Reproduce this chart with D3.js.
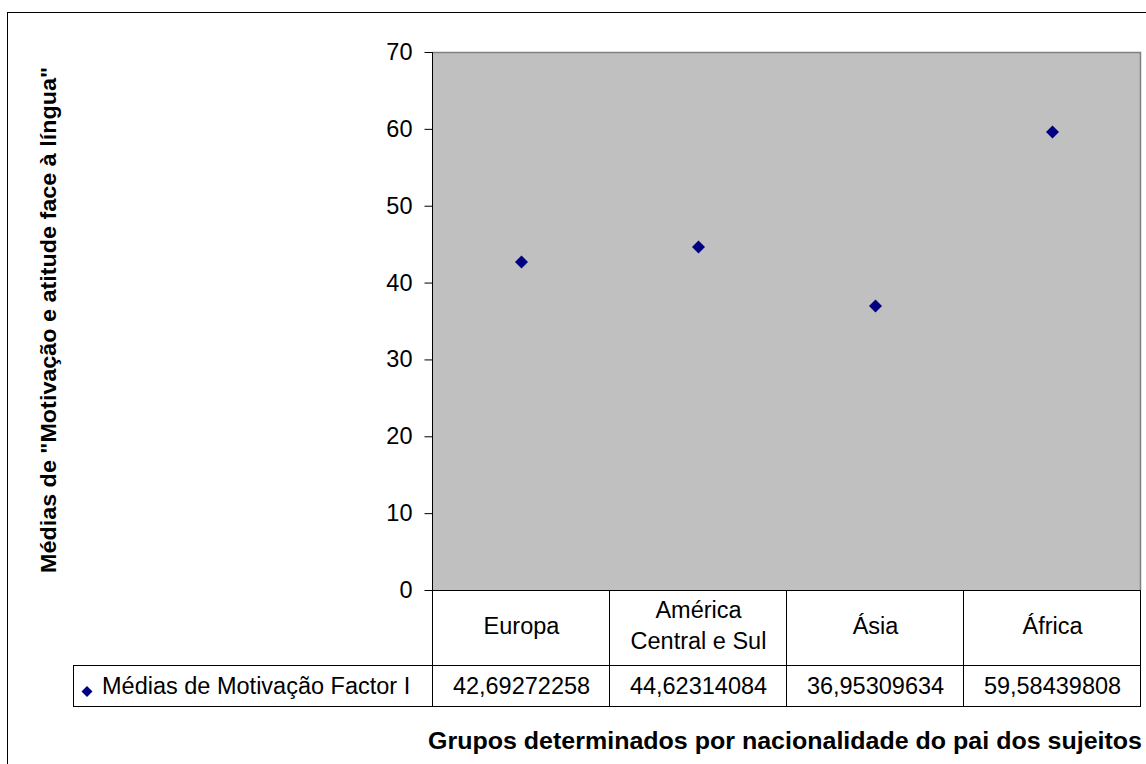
<!DOCTYPE html>
<html>
<head>
<meta charset="utf-8">
<script src="https://cdn.jsdelivr.net/npm/d3@7"></script>
<style>
  html, body { margin: 0; padding: 0; background: #fff; }
  svg { display: block; font-family: "Liberation Sans", Arial, sans-serif; }
</style>
</head>
<body>
<svg id="chart" width="1146" height="764"></svg>
<script>
// Group means of the "Motivação" factor by father's nationality
const categories = ["Europa", "América\nCentral e Sul", "Ásia", "África"];
const values = [42.69272258, 44.62314084, 36.95309634, 59.58439808];
const valueLabels = ["42,69272258", "44,62314084", "36,95309634", "59,58439808"];
const yTicks = [0, 10, 20, 30, 40, 50, 60, 70];
const seriesName = "Médias de Motivação Factor I";

const svg = d3.select("#chart");

const plot = { left: 433, right: 1141, top: 52, bottom: 590 };
const catRowBottom = 665;
const dataRowBottom = 706;
const legendLeft = 73;
const fontSize = 23.5;

// Outer chart frame (runs past the right and bottom edges of the canvas)
svg.append("rect")
  .attr("x", 7.5).attr("y", 12.5)
  .attr("width", 1150).attr("height", 760)
  .attr("fill", "#fff").attr("stroke", "#000").attr("stroke-width", 1);

const x = d3.scaleBand()
  .domain(d3.range(categories.length))
  .range([plot.left, plot.right])
  .padding(0);

const y = d3.scaleLinear()
  .domain([0, 70])
  .range([plot.bottom, plot.top]);

// Plot area
svg.append("rect")
  .attr("x", plot.left).attr("y", plot.top)
  .attr("width", plot.right - plot.left).attr("height", plot.bottom - plot.top)
  .attr("fill", "#c0c0c0");

// Grey frame on top and right of the plot area
svg.append("path")
  .attr("d", `M${plot.left},${plot.top + 0.5}H${plot.right - 0.5}V${plot.bottom}`)
  .attr("fill", "none").attr("stroke", "#808080").attr("stroke-width", 1.5);

// Y axis
const yAxis = d3.axisLeft(y)
  .tickValues(yTicks)
  .tickSize(8)
  .tickPadding(12)
  .tickFormat(d3.format("d"));

const gy = svg.append("g")
  .attr("transform", `translate(${plot.left - 0.5},0)`)
  .call(yAxis);
gy.select(".domain").remove();
gy.selectAll(".tick line").attr("stroke", "#000");
gy.selectAll(".tick text")
  .attr("font-size", fontSize)
  .attr("fill", "#000")
  .attr("font-family", "Liberation Sans, Arial, sans-serif");
gy.append("line")
  .attr("x1", 0).attr("x2", 0)
  .attr("y1", plot.top).attr("y2", dataRowBottom)
  .attr("stroke", "#000").attr("stroke-width", 1);

// Data table grid
const grid = svg.append("g").attr("stroke", "#000").attr("stroke-width", 1).attr("fill", "none");
grid.append("line")
  .attr("x1", plot.left - 8).attr("x2", plot.right)
  .attr("y1", plot.bottom + 0.5).attr("y2", plot.bottom + 0.5);
grid.append("line")
  .attr("x1", legendLeft).attr("x2", plot.right)
  .attr("y1", catRowBottom + 0.5).attr("y2", catRowBottom + 0.5);
grid.append("line")
  .attr("x1", legendLeft).attr("x2", plot.right)
  .attr("y1", dataRowBottom + 0.5).attr("y2", dataRowBottom + 0.5);
grid.append("line")
  .attr("x1", legendLeft + 0.5).attr("x2", legendLeft + 0.5)
  .attr("y1", catRowBottom).attr("y2", dataRowBottom + 1);
d3.range(1, categories.length + 1).forEach(i => {
  const xx = (i < categories.length ? x(i) : plot.right) - 0.5;
  grid.append("line")
    .attr("x1", xx).attr("x2", xx)
    .attr("y1", plot.bottom).attr("y2", dataRowBottom + 1);
});

// Category labels
const catG = svg.append("g");
categories.forEach((c, i) => {
  const lines = c.split("\n");
  const cx = x(i) + x.bandwidth() / 2;
  const cy = (plot.bottom + catRowBottom) / 2;
  const lh = 31;
  const t = catG.append("text")
    .attr("x", cx)
    .attr("text-anchor", "middle")
    .attr("font-size", fontSize)
    .attr("fill", "#000");
  lines.forEach((l, j) => {
    t.append("tspan")
      .attr("x", cx)
      .attr("y", cy + (j - (lines.length - 1) / 2) * lh + 6)
      .text(l);
  });
});

// Value row
const rowMid = (catRowBottom + dataRowBottom) / 2;
svg.append("g").selectAll("text")
  .data(valueLabels)
  .join("text")
  .attr("x", (d, i) => x(i) + x.bandwidth() / 2)
  .attr("y", rowMid + 8)
  .attr("text-anchor", "middle")
  .attr("font-size", fontSize)
  .attr("fill", "#000")
  .text(d => d);

// Square marker turned 45 degrees
const diamondPath = r => `M0,${-r}L${r},0L0,${r}L${-r},0Z`;

// Legend key inside the table
svg.append("path")
  .attr("d", diamondPath(5.5))
  .attr("transform", `translate(${legendLeft + 14},${rowMid + 6})`)
  .attr("fill", "#000080");
svg.append("text")
  .attr("x", legendLeft + 29)
  .attr("y", rowMid + 8)
  .attr("font-size", fontSize)
  .attr("fill", "#000")
  .text(seriesName);

// Data points
svg.append("g").selectAll("path")
  .data(values)
  .join("path")
  .attr("d", diamondPath(6.5))
  .attr("transform", (d, i) => `translate(${x(i) + x.bandwidth() / 2},${y(d)})`)
  .attr("fill", "#000080");

// Axis titles
svg.append("text")
  .attr("transform", `translate(56,${320}) rotate(-90)`)
  .attr("text-anchor", "middle")
  .attr("font-size", 22.5)
  .attr("font-weight", "bold")
  .attr("fill", "#000")
  .attr("textLength", 506)
  .attr("lengthAdjust", "spacingAndGlyphs")
  .text("Médias de \"Motivação e atitude face à língua\"");

svg.append("text")
  .attr("x", 1142)
  .attr("y", 749)
  .attr("text-anchor", "end")
  .attr("font-size", 23)
  .attr("font-weight", "bold")
  .attr("fill", "#000")
  .attr("textLength", 714)
  .attr("lengthAdjust", "spacingAndGlyphs")
  .text("Grupos determinados por nacionalidade do pai dos sujeitos");
</script>
</body>
</html>
